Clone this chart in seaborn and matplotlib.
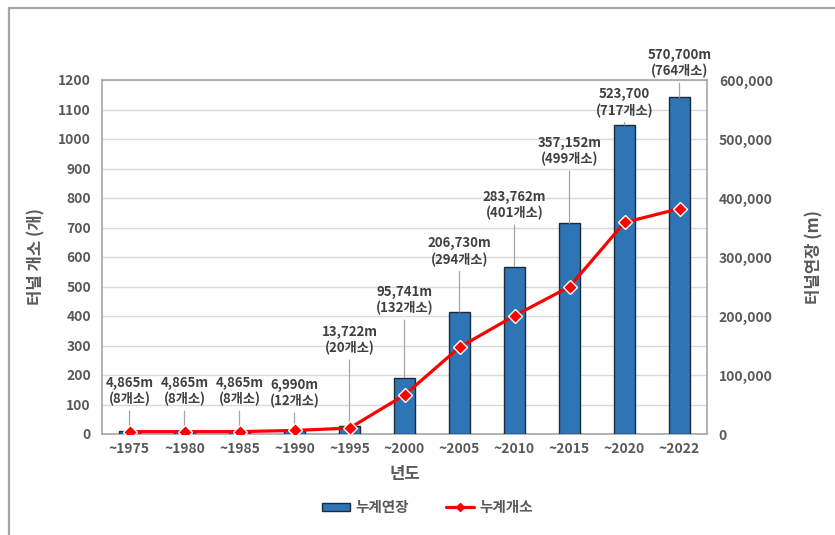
import matplotlib
matplotlib.use("Agg")
import matplotlib.pyplot as plt
from matplotlib.lines import Line2D
from matplotlib.patches import Patch
from matplotlib.ticker import MultipleLocator, StrMethodFormatter
import seaborn as sns
import pandas as pd

# Cumulative tunnel statistics by period
years = ['~1975', '~1980', '~1985', '~1990', '~1995', '~2000',
         '~2005', '~2010', '~2015', '~2020', '~2022']
length_m = [4865, 4865, 4865, 6990, 13722, 95741,
            206730, 283762, 357152, 523700, 570700]
count = [8, 8, 8, 12, 20, 132, 294, 401, 499, 717, 764]
length_unit = ['m', 'm', 'm', 'm', 'm', 'm', 'm', 'm', 'm', '', 'm']

# Vertical placement of the value callouts (in metres, right-hand scale)
label_y = [72900, 72900, 72900, 69500, 159300, 227100,
           309300, 388100, 479700, 561900, 628800]

df = pd.DataFrame({'년도': years, '누계연장': length_m, '누계개소': count})

sns.set_theme(style='white')
plt.rcParams['font.family'] = ['Noto Sans CJK KR', 'DejaVu Sans']
plt.rcParams['font.weight'] = 'bold'

TICK_C = '#595959'
TEXT_C = '#404040'
GRID_C = '#D9D9D9'
SPINE_C = '#A6A6A6'
BAR_C = '#2E75B6'
LINE_C = '#FF0000'

fig = plt.figure(figsize=(8.35, 5.35), dpi=100)
fig.patch.set_facecolor('white')

# Outer frame lines (top and left)
fig.add_artist(Line2D([9 / 835, 9 / 835], [0, 1 - 8 / 535], transform=fig.transFigure,
                      color=SPINE_C, lw=1.6))
fig.add_artist(Line2D([9 / 835, 1], [1 - 8 / 535, 1 - 8 / 535], transform=fig.transFigure,
                      color=SPINE_C, lw=1.6))

ax_bar = fig.add_axes([102 / 835, 1 - 434 / 535, 605 / 835, 354 / 535])
ax_line = ax_bar.twinx()

# Bars: cumulative length (right-hand axis)
sns.barplot(data=df, x='년도', y='누계연장', ax=ax_bar, color=BAR_C,
            edgecolor='#1E2B3A', linewidth=1.0, width=0.38, saturation=1,
            zorder=3)

# Line: cumulative count (left-hand axis)
sns.pointplot(data=df, x='년도', y='누계개소', ax=ax_line, color=LINE_C,
              markers='D', linestyles='-', errorbar=None,
              markersize=7.5, markeredgecolor='white', markeredgewidth=1.0,
              linewidth=2.3)

# Right axis (lengths)
ax_bar.set_ylim(0, 600000)
ax_bar.set_xlim(-0.5, len(years) - 0.5)
ax_bar.yaxis.tick_right()
ax_bar.yaxis.set_label_position('right')
ax_bar.yaxis.set_major_locator(MultipleLocator(100000))
ax_bar.yaxis.set_minor_locator(MultipleLocator(50000))
ax_bar.yaxis.set_major_formatter(StrMethodFormatter('{x:,.0f}'))
ax_bar.grid(True, which='both', axis='y', color=GRID_C, lw=1.0, zorder=0)
ax_bar.set_axisbelow(True)
ax_bar.tick_params(axis='y', which='both', length=0, pad=8.5, labelsize=10,
                   labelcolor=TICK_C, left=False, right=True, labelleft=False,
                   labelright=True)
ax_bar.tick_params(axis='x', length=0, pad=6, labelsize=10, labelcolor=TICK_C)
for s in ax_bar.spines.values():
    s.set_visible(True)
    s.set_color(SPINE_C)
    s.set_linewidth(1.2)
ax_bar.set_ylabel('터널연장 (m)', fontsize=12, color=TICK_C, fontweight='bold')
ax_bar.yaxis.set_label_coords(1.162, 0.5)
ax_bar.set_xlabel('년도', fontsize=12, color=TICK_C, fontweight='bold')
ax_bar.xaxis.set_label_coords(0.5, -0.088)

# Left axis (counts)
ax_line.set_ylim(0, 1200)
ax_line.set_xlim(-0.5, len(years) - 0.5)
ax_line.yaxis.tick_left()
ax_line.yaxis.set_label_position('left')
ax_line.yaxis.set_major_locator(MultipleLocator(100))
ax_line.tick_params(axis='y', length=0, pad=8, labelsize=10, labelcolor=TICK_C,
                    left=True, right=False, labelleft=True, labelright=False)
ax_line.grid(False)
for s in ax_line.spines.values():
    s.set_visible(False)
ax_line.set_ylabel('터널 개소 (개)', fontsize=12, color=TICK_C, fontweight='bold')
ax_line.yaxis.set_label_coords(-0.094, 0.5)
ax_line.set_xlabel('')

for lbl in ax_bar.get_xticklabels() + ax_bar.get_yticklabels() + ax_line.get_yticklabels():
    lbl.set_fontweight('bold')

# Value callouts with leader lines down to each bar
for i, (L, c, u, ly) in enumerate(zip(length_m, count, length_unit, label_y)):
    ax_bar.annotate(f'{L:,}{u}\n({c}개소)', xy=(i, L), xytext=(i, ly),
                    textcoords='data', ha='center', va='center',
                    fontsize=9.5, fontweight='bold', color=TEXT_C,
                    linespacing=1.2, annotation_clip=False, zorder=5,
                    arrowprops=dict(arrowstyle='-', color='#A6A6A6', lw=0.9,
                                    shrinkA=1, shrinkB=0))

# Legend
handles = [
    Patch(facecolor=BAR_C, edgecolor='#1E2B3A', linewidth=1.0, label='누계연장'),
    Line2D([0], [0], color=LINE_C, lw=2.3, marker='D', markersize=4.5,
           markerfacecolor=LINE_C, markeredgecolor=LINE_C, label='누계개소'),
]
leg = fig.legend(handles=handles, loc='center', bbox_to_anchor=(0.512, 1 - 507 / 535),
                 ncol=2, frameon=False, fontsize=10.5, handlelength=1.9,
                 handleheight=0.5, handletextpad=0.35, columnspacing=2.6)
for t in leg.get_texts():
    t.set_color(TICK_C)
    t.set_fontweight('bold')

fig.savefig('out.png', dpi=100, facecolor='white')
